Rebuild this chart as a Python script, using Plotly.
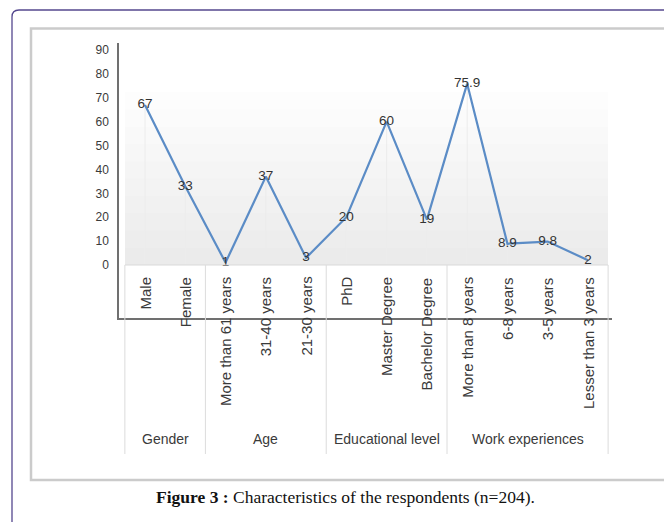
import plotly.graph_objects as go

categories = ["Male", "Female", "More than 61 years", "31-40 years", "21-30 years",
              "PhD", "Master Degree", "Bachelor Degree", "More than 8 years",
              "6-8 years", "3-5 years", "Lesser than 3 years"]
values = [67, 33, 1, 37, 3, 20, 60, 19, 75.9, 8.9, 9.8, 2]
value_labels = ["67", "33", "1", "37", "3", "20", "60", "19", "75.9", "8.9", "9.8", "2"]
groups = ["Gender", "Age", "Educational level", "Work experiences"]
group_sizes = [2, 3, 3, 4]
y_ticks = [0, 10, 20, 30, 40, 50, 60, 70, 80, 90]
caption_bold = "Figure 3 :"
caption_text = "Characteristics of the respondents (n=204)."

W, H = 664, 522
x_idx = list(range(len(categories)))

def px_x(p):
    return p / W

def px_y(p):
    return 1 - p / H

fig = go.Figure()

# faint drop lines
dx, dy = [], []
for i, v in zip(x_idx, values):
    dx += [i, i, None]
    dy += [0, v, None]
fig.add_trace(go.Scatter(x=dx, y=dy, mode="lines", line=dict(color="#ececec", width=1),
                         hoverinfo="skip", showlegend=False))

fig.add_trace(go.Scatter(
    x=x_idx, y=values, mode="lines+text", text=value_labels,
    textposition="middle center",
    textfont=dict(family="Liberation Sans", size=13.5, color="#333333"),
    line=dict(color="#5b8cc6", width=2.2), showlegend=False))

shapes = []
# gradient background
n = 10
for k in range(n):
    top = 72.4 * (1 - k / n)
    shapes.append(dict(type="rect", xref="x", yref="y", x0=-0.5, x1=11.5, y0=0, y1=top,
                       fillcolor="rgba(0,0,0,0.006)", line=dict(width=0), layer="below"))

# table top line
shapes.append(dict(type="line", xref="x", yref="y", x0=-0.5, x1=11.5, y0=0, y1=0,
                   line=dict(color="#d9d9d9", width=1)))
# group separators
pos = -0.5
seps = [pos]
for s in group_sizes:
    pos += s
    seps.append(pos)
for s in seps:
    shapes.append(dict(type="line", xref="x", yref="paper", x0=s, x1=s,
                       y0=px_y(454), y1=px_y(265), line=dict(color="#dcdcdc", width=1)))

# outer purple frame with rounded corner
r = 7
shapes.append(dict(type="path", xref="paper", yref="paper",
                   path=f"M {px_x(12)} {px_y(530)} L {px_x(12)} {px_y(10 + r)} "
                        f"Q {px_x(12)} {px_y(10)} {px_x(12 + r)} {px_y(10)} L {px_x(670)} {px_y(10)}",
                   line=dict(color="#55488f", width=1.3)))
# inner image frame
shapes.append(dict(type="rect", xref="paper", yref="paper",
                   x0=px_x(31), x1=px_x(680), y0=px_y(480), y1=px_y(28.5),
                   line=dict(color="#cbcbcb", width=2.5), fillcolor="rgba(0,0,0,0)"))

annotations = []
for i, c in zip(x_idx, categories):
    annotations.append(dict(x=i, y=px_y(275), xref="x", yref="paper", text=c,
                            textangle=-90, xanchor="center", yanchor="top", showarrow=False,
                            font=dict(family="Liberation Sans", size=15, color="#3a3a3a")))
start = 0
for g, s in zip(groups, group_sizes):
    center = start + (s - 1) / 2
    annotations.append(dict(x=center, y=px_y(439), xref="x", yref="paper", text=g,
                            xanchor="center", yanchor="middle", showarrow=False,
                            font=dict(family="Liberation Sans", size=14, color="#3a3a3a")))
    start += s
annotations.append(dict(x=px_x(345), y=px_y(497), xref="paper", yref="paper",
                        text=f"<b>{caption_bold}</b> {caption_text}", showarrow=False,
                        xanchor="center", yanchor="middle",
                        font=dict(family="Liberation Serif", size=17.5, color="#111111")))

y0px, y90px = 265, 50
upp = 90 / (y0px - y90px)
y_top = 90 + (y90px - 43) * upp
y_bot = -(318 - y0px) * upp
spacing = 40.27
x_left = (119 - 145) / spacing
x_right = (612 - 145) / spacing

fig.update_layout(
    width=W, height=H, margin=dict(l=0, r=0, t=0, b=0),
    paper_bgcolor="white", plot_bgcolor="rgba(0,0,0,0)",
    shapes=shapes, annotations=annotations, showlegend=False,
    xaxis=dict(domain=[px_x(119), px_x(612)], range=[x_left, x_right],
               showticklabels=False, showgrid=False, zeroline=False,
               showline=True, linecolor="#707070", linewidth=1.5, ticks=""),
    yaxis=dict(domain=[px_y(318), px_y(43)], range=[y_bot, y_top],
               tickvals=y_ticks, ticktext=[str(t) for t in y_ticks],
               tickfont=dict(family="Liberation Sans", size=12, color="#3a3a3a"),
               showgrid=False, zeroline=False, showline=True, linecolor="#707070",
               linewidth=1.5, ticks="", ticklabelstandoff=6),
)

fig.write_html("out.html", config={"displayModeBar": False},
               post_script="document.body.style.margin='0';document.body.style.overflow='hidden';")
